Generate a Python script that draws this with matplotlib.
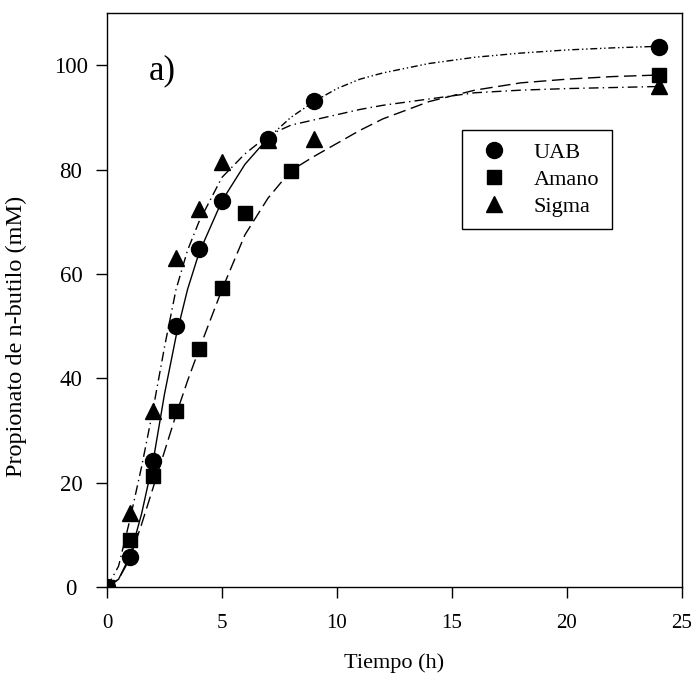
import matplotlib.pyplot as plt
from matplotlib.lines import Line2D

plt.rcParams['font.family'] = ['Liberation Serif', 'DejaVu Serif']

# experimental points (h, mM)
t_uab = [0, 1, 2, 3, 4, 5, 7, 9, 24]
uab = [0, 5.7, 24.2, 50.1, 64.8, 74.0, 85.8, 93.1, 103.4]
t_amano = [0, 1, 2, 3, 4, 5, 6, 8, 24]
amano = [0, 9.0, 21.3, 33.7, 45.6, 57.3, 71.7, 79.8, 98.1]
t_sigma = [0, 1, 2, 3, 4, 5, 7, 9, 24]
sigma = [0, 14.2, 33.8, 63.1, 72.5, 81.5, 85.7, 85.8, 96.0]

# fitted curves
fit_t = [0, 0.5, 1, 1.5, 2, 2.5, 3, 3.5, 4, 5, 6, 7, 8, 9, 10, 11, 12, 14, 16, 18, 20, 22, 24]
fit_uab = [0, 1.5, 6, 14, 24, 37, 48, 57, 64, 74, 81, 86, 90, 93, 95.5, 97.3, 98.5,
           100.3, 101.5, 102.3, 102.9, 103.3, 103.6]
fit_amano = [0, 1.5, 5.5, 12, 19, 26, 33, 39.5, 45.5, 57, 67.5, 74.5, 79.8, 82.5, 85, 87.5, 89.7,
             93.0, 95.2, 96.6, 97.3, 97.8, 98.1]
fit_sigma = [0, 4, 13, 23, 34, 46, 57, 64.5, 70, 78.5, 83, 86.5, 88.5, 89.5, 90.5, 91.5, 92.3,
             93.5, 94.7, 95.2, 95.5, 95.7, 95.9]

fig = plt.figure(figsize=(6.95, 6.78), dpi=100)
ax = fig.add_axes([0.154, 0.134, 0.827, 0.847])

k = fit_t.index(7)
ax.plot(fit_t[:k + 1], fit_uab[:k + 1], color='black', lw=1.0, ls='-')
ax.plot(fit_t[k:], fit_uab[k:], color='black', lw=1.0, ls=(0, (5, 2, 1, 2, 1, 2)))
ax.plot(fit_t, fit_amano, color='black', lw=1.0, ls=(0, (9, 4)))
ax.plot(fit_t, fit_sigma, color='black', lw=1.0, ls=(0, (7, 3, 1, 3)))

ax.plot(t_sigma, sigma, ls='none', marker='^', ms=11, color='black', zorder=3)
ax.plot(t_amano, amano, ls='none', marker='s', ms=9.5, color='black', zorder=4)
ax.plot(t_uab, uab, ls='none', marker='o', ms=11.5, color='black', zorder=5)

ax.set_xlim(0, 25)
ax.set_ylim(0, 110)
ax.set_xticks([0, 5, 10, 15, 20, 25])
ax.set_yticks([0, 20, 40, 60, 80, 100])
ax.tick_params(direction='out', length=8, width=1, color='black')
ax.tick_params(axis='x', labelsize=15, pad=11)
ax.tick_params(axis='y', labelsize=16.5, pad=18)
for lbl in ax.get_yticklabels():
    lbl.set_horizontalalignment('center')
for s in ax.spines.values():
    s.set_linewidth(1.0)

ax.set_xlabel('Tiempo (h)', fontsize=16, labelpad=15)
ax.set_ylabel('Propionato de n-butilo (mM)', fontsize=17.5)
ax.yaxis.set_label_coords(-0.14, 0.436)

ax.text(1.8, 97.3, 'a)', fontsize=25)

handles = [
    Line2D([], [], ls='none', marker='o', ms=11.5, color='black'),
    Line2D([], [], ls='none', marker='s', ms=9.5, color='black'),
    Line2D([], [], ls='none', marker='^', ms=11, color='black'),
]
leg = ax.legend(handles, ['UAB', 'Amano', 'Sigma'], loc='upper left',
                bbox_to_anchor=(0.617, 0.796), borderaxespad=0, fontsize=16,
                frameon=True, fancybox=False, edgecolor='black', framealpha=1,
                handlelength=1.8, handletextpad=0.9, labelspacing=0.3, borderpad=0.55)
leg.get_frame().set_linewidth(1.0)

fig.savefig('out.png', dpi=100)
